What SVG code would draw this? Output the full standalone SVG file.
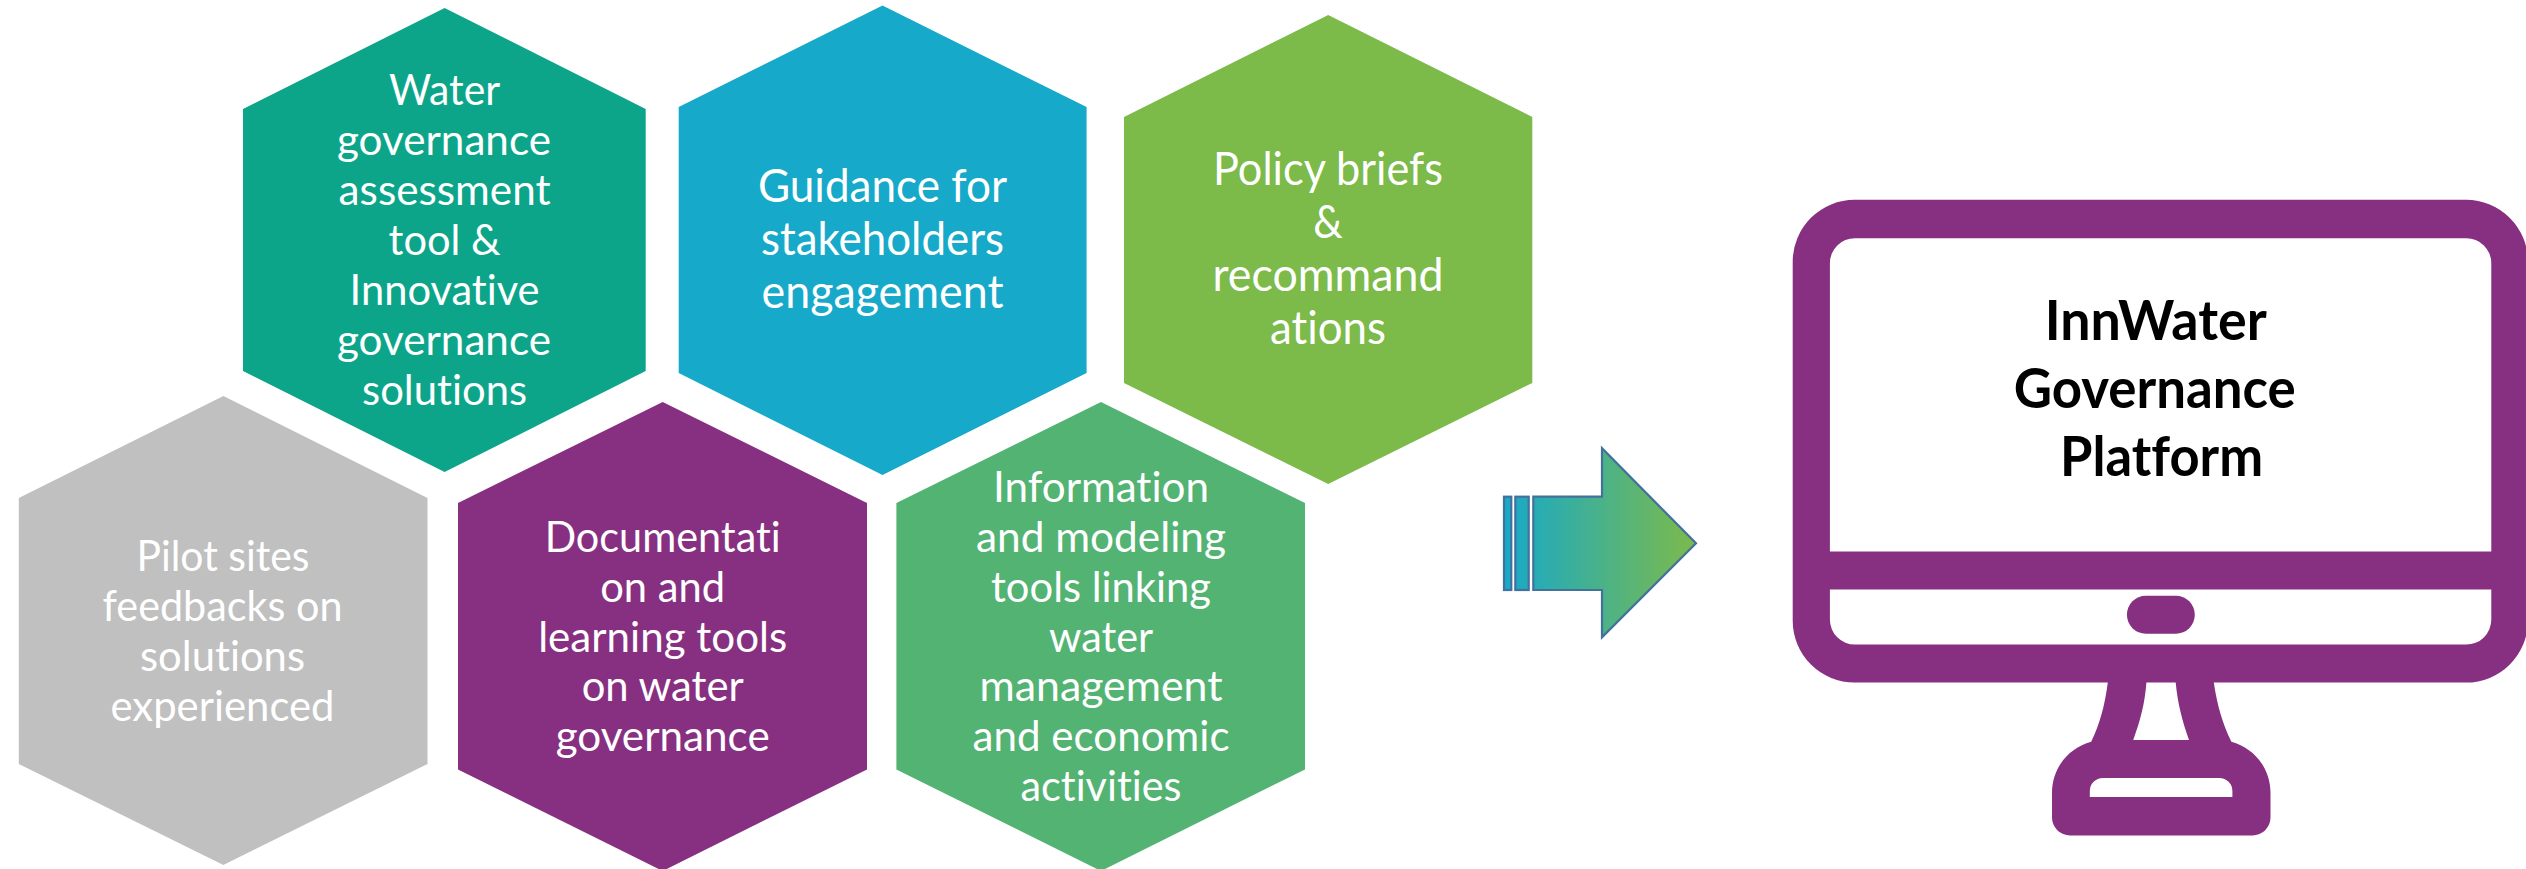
<svg xmlns="http://www.w3.org/2000/svg" width="2526" height="869" viewBox="0 0 2526 869">
<style>
text{font-family:Lato,"Noto Sans","Liberation Sans",sans-serif;text-anchor:middle;font-variant-ligatures:none;transform:translateY(1.5px)}
.h{fill:#fff;font-size:43px}
.b{fill:#fff;font-size:46px}
.m{fill:#000;font-size:55px;font-weight:700}
.p{fill:#873081}
</style>
<defs>
<linearGradient id="ag" gradientUnits="userSpaceOnUse" x1="1504" y1="0" x2="1696" y2="0"><stop offset="0" stop-color="#17a9c9"/><stop offset="1" stop-color="#7cba4a"/></linearGradient>
</defs>
<rect width="2526" height="869" fill="#fff"/>
<g id="hex-assessment">
<polygon points="444.6,8 645.7,109 645.7,371 444.6,472 243,371 243,109" fill="#0da58a"/>
<text class="h"><tspan lengthAdjust="spacingAndGlyphs" x="444.6" y="103.7" textLength="111">Water</tspan><tspan lengthAdjust="spacingAndGlyphs" x="444" y="153.5" textLength="214">governance</tspan><tspan lengthAdjust="spacingAndGlyphs" x="444.6" y="203.4" textLength="212">assessment</tspan><tspan lengthAdjust="spacingAndGlyphs" x="444.6" y="253.3" textLength="112">tool &amp;</tspan><tspan lengthAdjust="spacingAndGlyphs" x="444.6" y="303.2" textLength="190">Innovative</tspan><tspan lengthAdjust="spacingAndGlyphs" x="444" y="353" textLength="214">governance</tspan><tspan lengthAdjust="spacingAndGlyphs" x="444.6" y="403" textLength="165">solutions</tspan></text>
</g>
<g id="hex-guidance">
<polygon points="882.5,5.5 1086.6,107 1086.6,373 882.5,475 678.7,373 678.7,107" fill="#17a9c9"/>
<text class="b"><tspan lengthAdjust="spacingAndGlyphs" x="882.5" y="200.7" textLength="249">Guidance for</tspan><tspan lengthAdjust="spacingAndGlyphs" x="882.5" y="253.9" textLength="243">stakeholders</tspan><tspan lengthAdjust="spacingAndGlyphs" x="882.5" y="306" textLength="242">engagement</tspan></text>
</g>
<g id="hex-policy">
<polygon points="1328.2,15 1532.3,117 1532.3,383 1328.2,484 1124,383 1124,117" fill="#7cba4a"/>
<text class="b"><tspan lengthAdjust="spacingAndGlyphs" x="1328" y="183.5" textLength="230">Policy briefs</tspan><tspan lengthAdjust="spacingAndGlyphs" x="1328" y="236.7" textLength="29.5">&amp;</tspan><tspan lengthAdjust="spacingAndGlyphs" x="1328" y="289.9" textLength="231">recommand</tspan><tspan lengthAdjust="spacingAndGlyphs" x="1328" y="342" textLength="116">ations</tspan></text>
</g>
<g id="hex-pilot">
<polygon points="223.4,396 427.5,498 427.5,764 223.4,865 18.8,764 18.8,498" fill="#c0c0c0"/>
<text class="h"><tspan lengthAdjust="spacingAndGlyphs" x="223" y="569.3" textLength="173">Pilot sites</tspan><tspan lengthAdjust="spacingAndGlyphs" x="222.5" y="619.2" textLength="240">feedbacks on</tspan><tspan lengthAdjust="spacingAndGlyphs" x="222.5" y="669" textLength="165">solutions</tspan><tspan lengthAdjust="spacingAndGlyphs" x="222.5" y="719" textLength="224">experienced</tspan></text>
</g>
<g id="hex-documentation">
<polygon points="662.7,402 867,503 867,769.4 662.7,871 458,769.4 458,503" class="p"/>
<text class="h"><tspan lengthAdjust="spacingAndGlyphs" x="662.7" y="550" textLength="236">Documentati</tspan><tspan lengthAdjust="spacingAndGlyphs" x="662.7" y="600" textLength="125">on and</tspan><tspan lengthAdjust="spacingAndGlyphs" x="662.7" y="650" textLength="249">learning tools</tspan><tspan lengthAdjust="spacingAndGlyphs" x="662.7" y="699.6" textLength="162">on water</tspan><tspan lengthAdjust="spacingAndGlyphs" x="662.7" y="749.4" textLength="214">governance</tspan></text>
</g>
<g id="hex-information">
<polygon points="1101,402 1305,503 1305,769.4 1101,871 896.4,769.4 896.4,503" fill="#53b373"/>
<text class="h"><tspan lengthAdjust="spacingAndGlyphs" x="1101" y="500" textLength="216">Information</tspan><tspan lengthAdjust="spacingAndGlyphs" x="1101" y="550" textLength="250">and modeling</tspan><tspan lengthAdjust="spacingAndGlyphs" x="1101" y="600" textLength="220">tools linking</tspan><tspan lengthAdjust="spacingAndGlyphs" x="1101" y="650" textLength="104">water</tspan><tspan lengthAdjust="spacingAndGlyphs" x="1101" y="699.6" textLength="243">management</tspan><tspan lengthAdjust="spacingAndGlyphs" x="1101" y="749.4" textLength="257">and economic</tspan><tspan lengthAdjust="spacingAndGlyphs" x="1101" y="799.3" textLength="161">activities</tspan></text>
</g>
<g id="connectors" fill="url(#ag)" stroke="#41719c" stroke-width="2.2">
<path d="M1533.3 496.7H1602V448.3L1696 543.3L1602 637.3V590H1533.3Z"/>
<rect x="1515.3" y="496.7" width="13.4" height="93.3"/>
<rect x="1504" y="496.7" width="7.3" height="93.3"/>
</g>
<g id="platform">
<path class="p" fill-rule="evenodd" d="M1855 199.8H2466A62 62 0 0 1 2528 261.8V620.6A62 62 0 0 1 2466 682.6H2213.8C2217 705 2223 725 2231.4 741.8C2254 748 2270.5 768 2270.5 793V817.4A18 18 0 0 1 2252.5 835.4H2070A18 18 0 0 1 2052 817.4V793C2052 768 2068.5 748 2091.2 741.8C2099.5 725 2105 705 2107.8 682.6H1855A62 62 0 0 1 1792.7 620.6V261.8A62 62 0 0 1 1855 199.8Z
M1855 238.2A25 25 0 0 0 1829.9 263.2V551.5H2491.3V263.2A25 25 0 0 0 2466 238.2Z
M1829.9 589.5V619.6A25 25 0 0 0 1855 644.6H2466A25 25 0 0 0 2491.3 619.6V589.5Z
M2146.4 682.6C2145 703 2140 722 2133.2 740H2189C2182.5 722 2177.5 703 2175.7 682.6Z
M2102.8 778A13 13 0 0 0 2089.8 791V797H2232.4V791A13 13 0 0 0 2219.4 778Z"/>
<rect class="p" x="2126.9" y="595.8" width="67.9" height="38" rx="19"/>
<text class="m"><tspan lengthAdjust="spacingAndGlyphs" x="2155.7" y="338.6" textLength="222">InnWater</tspan><tspan lengthAdjust="spacingAndGlyphs" x="2154.7" y="406.4" textLength="282">Governance</tspan><tspan lengthAdjust="spacingAndGlyphs" x="2161.6" y="474.2" textLength="203">Platform</tspan></text>
</g>
</svg>
